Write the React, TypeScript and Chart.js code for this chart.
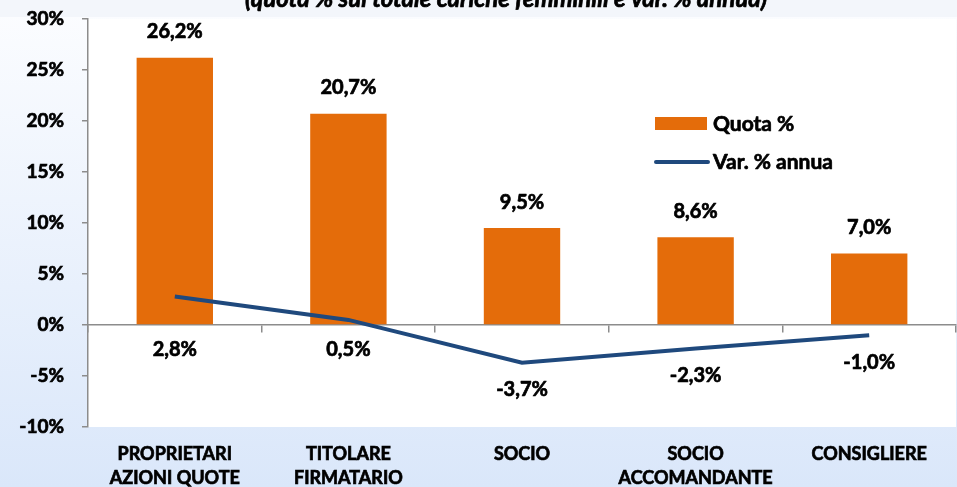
import { useEffect, useRef } from "react";
import { Chart, registerables } from "chart.js";

Chart.register(...registerables);

const title = "(quota % sul totale cariche femminili e var. % annua)";
const categories: string[][] = [
  ["PROPRIETARI", "AZIONI QUOTE"],
  ["TITOLARE", "FIRMATARIO"],
  ["SOCIO"],
  ["SOCIO", "ACCOMANDANTE"],
  ["CONSIGLIERE"],
];
const quotaLabel = "Quota %";
const quotaValues = [26.2, 20.7, 9.5, 8.6, 7.0];
const varLabel = "Var. % annua";
const varValues = [2.8, 0.5, -3.7, -2.3, -1.0];
const yMin = -10;
const yMax = 30;
const yStep = 5;

const FONT = "Lato, 'DejaVu Sans', sans-serif";
const W = "bold";
const STROKE = 0.7;
const ORANGE = "#E46C0A";
const BLUE = "#1F497D";
const AXIS = "#8C8C8C";

const fmt = (v: number) => v.toFixed(1).replace(".", ",") + "%";

function heavyText(ctx: CanvasRenderingContext2D, text: string, x: number, y: number) {
  ctx.lineWidth = STROKE;
  ctx.strokeStyle = "#000";
  ctx.lineJoin = "round";
  ctx.strokeText(text, x, y);
  ctx.fillText(text, x, y);
}

const decorPlugin = {
  id: "decor",
  beforeDraw(chart: any) {
    const { ctx, width, height, chartArea } = chart;
    ctx.save();
    const g = ctx.createLinearGradient(0, 0, 0, height);
    g.addColorStop(0, "#fcfdff");
    g.addColorStop(1, "#dae7fa");
    ctx.fillStyle = g;
    ctx.fillRect(0, 0, width, height);
    ctx.fillStyle = "#f3f6fb";
    ctx.fillRect(0, 0, width, 17);
    ctx.fillStyle = "#ffffff";
    ctx.fillRect(chartArea.left, chartArea.top, chartArea.right - chartArea.left, chartArea.bottom - chartArea.top);
    ctx.restore();
  },
  afterDraw(chart: any) {
    const { ctx } = chart;
    const yScale = chart.scales.y;
    const zeroY = yScale.getPixelForValue(0);
    ctx.save();
    ctx.fillStyle = "#000";
    ctx.textAlign = "center";
    ctx.textBaseline = "middle";
    ctx.font = `${W} 20px ${FONT}`;
    const barMeta = chart.getDatasetMeta(0);
    barMeta.data.forEach((el: any, i: number) => {
      const v = chart.data.datasets[0].data[i];
      heavyText(ctx, fmt(v), el.x, el.y - 26);
    });
    const lineMeta = chart.getDatasetMeta(1);
    lineMeta.data.forEach((el: any, i: number) => {
      const v = chart.data.datasets[1].data[i];
      const y = Math.max(el.y + 27, zeroY + 25);
      heavyText(ctx, fmt(v), el.x, y);
    });
    ctx.font = `italic ${W} 24px ${FONT}`;
    ctx.textBaseline = "alphabetic";
    ctx.textAlign = "left";
    heavyText(ctx, title, 245, 7);
    ctx.font = `${W} 21px ${FONT}`;
    ctx.textBaseline = "middle";
    ctx.fillStyle = chart.data.datasets[0].backgroundColor;
    ctx.fillRect(655, 117, 52, 13);
    ctx.fillStyle = "#000";
    heavyText(ctx, chart.data.datasets[0].label, 713, 124);
    ctx.strokeStyle = chart.data.datasets[1].borderColor;
    ctx.lineWidth = 4;
    ctx.lineCap = "round";
    ctx.beginPath();
    ctx.moveTo(656, 162);
    ctx.lineTo(708, 162);
    ctx.stroke();
    heavyText(ctx, chart.data.datasets[1].label, 713, 162);
    ctx.restore();
  },
};

export default function App() {
  const ref = useRef<HTMLCanvasElement | null>(null);
  useEffect(() => {
    document.body.style.margin = "0";
    if (!ref.current) return;
    const chart = new Chart(ref.current, {
      type: "bar",
      data: {
        labels: categories,
        datasets: [
          {
            type: "bar",
            label: quotaLabel,
            data: quotaValues,
            backgroundColor: ORANGE,
            barPercentage: 0.44,
            categoryPercentage: 1,
            order: 2,
          },
          {
            type: "line",
            label: varLabel,
            data: varValues,
            borderColor: BLUE,
            borderWidth: 4,
            pointRadius: 0,
            tension: 0,
            order: 1,
          } as any,
        ],
      },
      options: {
        responsive: false,
        animation: false,
        layout: { padding: { top: 19, right: 1, left: 0, bottom: 0 } },
        plugins: { legend: { display: false }, tooltip: { enabled: false }, title: { display: false } },
        scales: {
          x: {
            grid: { display: false, drawTicks: false },
            border: { display: false },
            ticks: {
              color: "#000",
              textStrokeColor: "#000",
              textStrokeWidth: STROKE,
              font: { family: FONT, size: 18, weight: W as any, lineHeight: 1.35 },
              padding: 15,
              maxRotation: 0,
              autoSkip: false,
            } as any,
            afterFit: (s: any) => {
              s.height = 60;
            },
          },
          x2: {
            axis: "x",
            type: "category",
            position: { y: 0 } as any,
            grid: { offset: true, drawOnChartArea: false, tickLength: 7, color: AXIS, lineWidth: 1.5 },
            border: { color: AXIS, width: 1.5 },
            ticks: { display: false },
            afterFit: (s: any) => {
              s.height = 0;
            },
          } as any,
          y: {
            min: yMin,
            max: yMax,
            ticks: {
              stepSize: yStep,
              color: "#000",
              textStrokeColor: "#000",
              textStrokeWidth: STROKE,
              font: { family: FONT, size: 19, weight: W as any },
              padding: 18,
              callback: (v: any) => `${v}%`,
            } as any,
            grid: { drawOnChartArea: false, color: AXIS, tickLength: 6, lineWidth: 1.5 },
            border: { color: AXIS, width: 1.5 },
            afterFit: (s: any) => {
              s.width = 88;
              s.paddingTop = 11;
              s.paddingBottom = 11;
            },
          },
        },
      },
      plugins: [decorPlugin],
    });
    return () => chart.destroy();
  }, []);
  return (
    <div style={{ width: 957, height: 487 }}>
      <canvas ref={ref} width={957} height={487} style={{ display: "block" }} />
    </div>
  );
}
